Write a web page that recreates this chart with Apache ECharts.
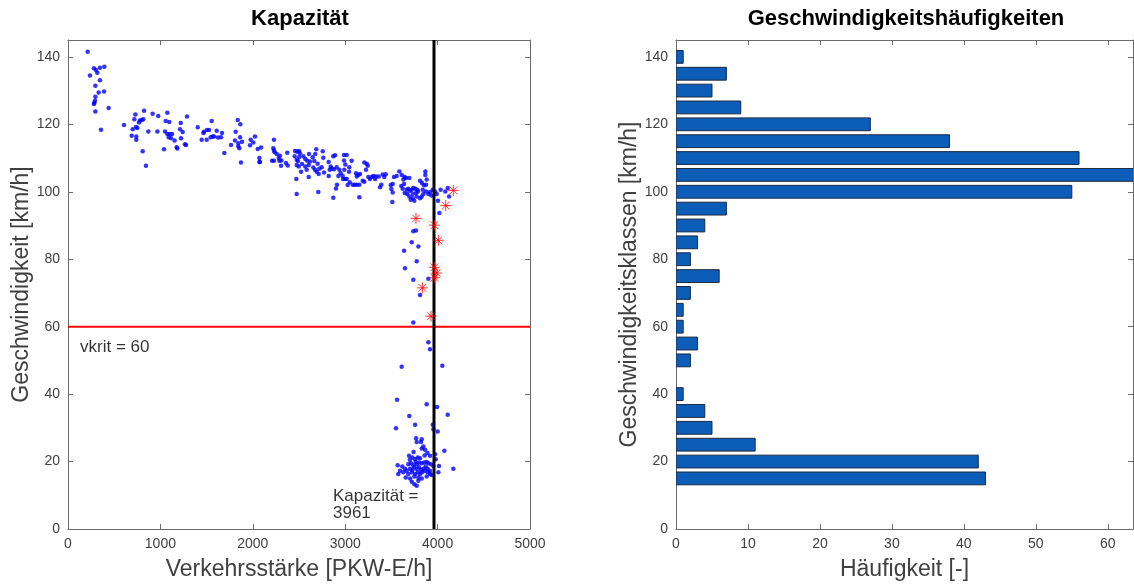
<!DOCTYPE html>
<html>
<head>
<meta charset="utf-8">
<script src="https://cdn.jsdelivr.net/npm/echarts@6/dist/echarts.min.js"></script>
<style>
  html, body { margin: 0; padding: 0; background: #fff; }
  #chart { width: 1134px; height: 586px; }
</style>
</head>
<body>
<div id="chart"></div>
<script>
// measured flow [PKW-E/h] and speed [km/h]
const measuredPoints = [
  [213,141.5],[238,134.5],[281,136.6],[303,136.1],[317,135.3],[346,136.8],[393,137.1],[346,133.1],[296,131.4],[332,129.4],
  [390,129.7],[296,128.2],[292,127.0],[285,126.4],[281,126.0],[296,123.8],[440,124.8],[357,118.4],[606,119.8],[729,122.9],
  [718,121.5],[700,118.5],[689,116.6],[739,116.4],[739,115.4],[750,118.9],[736,119.2],[768,120.5],[779,121.1],[797,121.3],
  [815,121.5],[823,124.0],[808,112.0],[844,107.7],[869,117.9],[916,123.1],[977,122.5],[967,117.9],[1039,112.6],[1050,117.9],
  [1057,121.0],[1075,123.4],[1096,120.7],[1075,117.1],[1100,117.1],[1126,117.1],[1090,116.2],[1115,115.9],[1154,115.2],[1176,113.2],
  [1183,112.8],[1220,120.4],[1212,118.5],[1223,115.9],[1241,117.7],[1266,114.1],[1277,113.9],[1288,122.3],[1404,119.1],[1447,115.4],
  [1472,117.8],[1465,117.4],[1504,118.3],[1526,118.3],[1555,121.0],[1501,115.4],[1544,116.2],[1566,116.4],[1580,116.4],[1609,118.1],
  [1623,116.1],[1667,117.4],[1656,116.2],[1692,111.5],[1764,113.9],[1815,117.8],[1837,121.3],[1865,120.0],[1807,115.2],[1843,114.4],
  [1862,116.2],[1843,113.5],[1854,112.9],[1883,114.8],[1872,108.7],[1970,113.8],[1977,115.4],[2005,114.6],[2024,116.4],[2053,112.7],
  [2071,110.0],[2071,108.8],
  [2089,113.1],[2078,108.8],[2229,115.4],[2222,112.9],[2229,112.2],[2237,111.7],[2208,109.2],[2229,109.2],[2259,111.2],[2280,110.0],
  [2294,110.7],[2309,109.3],[2287,109.2],[2305,107.7],[2359,108.5],[2373,111.6],[2378,107.8],[2457,112.1],[2482,111.9],[2500,112.1],
  [2511,111.4],[2453,110.5],[2475,109.5],[2489,109.1],[2503,110.3],[2475,107.9],[2497,107.5],[2522,105.9],[2471,103.8],[2475,99.3],
  [2547,110.5],[2568,109.7],[2590,109.2],[2608,111.2],[2619,109.0],[2533,108.2],[2568,107.5],[2583,106.5],[2605,107.9],[2605,104.4],
  [2648,110.2],[2666,109.1],[2687,112.6],[2676,111.2],[2702,108.3],[2655,107.2],[2673,106.5],[2691,105.9],[2713,105.3],[2757,112.0],
  [2763,110.1],[2720,106.8],[2746,107.3],[2771,105.7],[2709,99.9],[2821,108.8],[2843,107.5],[2832,106.5],[2821,104.7],[2854,106.9],
  [2871,110.5],[2890,110.8],[2871,98.2],[2900,101.0],[2911,102.1],[2926,104.7],[2879,106.7],[2908,107.3],[2936,106.5],[2951,105.5],
  [2973,104.7],[2987,110.9],[3016,110.9],[2987,109.3],[3001,108.1],[2990,106.5],[3044,107.3],[3070,109.2],[2976,103.8],[2998,103.8],
  [3016,103.8],[3027,102.0],[3049,102.8],[3041,105.9],[3081,102.1],[3103,102.1],[3125,102.1],[3153,102.1],[3125,104.5],[3142,105.0],
  [3160,105.3],[3117,105.5],[3207,108.7],[3233,108.3],[3244,107.7],[3225,106.5],[3250,104.4],[3268,103.8],[3287,104.4],[3305,104.7],
  [3153,98.4],[3189,103.3],[3207,103.0],[3323,103.8],[3333,104.5],[3363,104.5],[3406,105.1],[3423,104.4],[3439,105.2],[3377,101.3],
  [3391,102.1],[3493,102.0],[3499,100.8],[3514,102.3],[3528,104.4],[3557,104.7],[3510,97.0],[3514,99.8],[3586,106.0],
  [3612,105.0],[3629,103.6],[3644,104.4],[3658,104.1],[3694,104.1],[3607,101.7],[3622,100.9],[3637,102.3],[3666,100.6],[3683,100.9],
  [3702,100.3],[3720,100.6],[3737,101.1],[3759,100.9],[3781,100.6],[3644,99.6],[3672,99.3],[3694,98.6],[3731,99.3],[3767,99.6],
  [3788,100.1],[3709,97.6],[3731,98.1],[3748,97.3],[3774,98.6],[3810,98.1],[3828,98.6],[3846,99.3],[3810,103.3],[3831,102.6],
  [3853,101.9],[3839,100.6],[3875,100.1],[3875,102.1],[3882,103.6],[3867,105.0],[3867,106.0],[3900,99.3],[3918,99.9],[3947,100.6],
  [3932,98.9],[3972,100.1],[3990,99.3],[4033,100.6],[4083,100.1],[4110,101.1],[4004,97.3],[4124,98.6],
  [4019,93.7],[3737,88.3],[3766,88.5],[3720,85.0],[3792,83.8],[3637,82.5],[3774,79.4],[3647,77.3],[3737,73.9],[3900,74.2],
  [3810,69.4],[3737,61.2],
  [3900,55.4],[3918,53.3],[3611,48.1],[4051,48.4],[3561,38.3],[3882,37.0],[3994,36.2],[4109,33.9],[3694,33.5],[3550,29.9],
  [3756,30.9],[3947,30.9],[3954,29.6],[4001,28.9],[3767,26.9],[3828,26.6],
  [3774,25.8],[3828,23.9],[3846,24.5],[3864,23.5],[3820,25.8],[3918,21.7],[3972,22.2],[3980,20.7],[4073,23.2],[3691,21.7],
  [3727,21.2],[3756,20.7],[3785,21.2],[3763,19.9],[3683,19.2],[3712,19.5],[3737,18.9],[3774,19.2],[3799,19.7],[3828,19.5],
  [3856,19.7],[3882,19.9],[3900,19.5],[3929,19.2],[3954,18.7],[3568,18.9],[3618,18.5],[3647,17.9],[3593,17.3],[3575,16.3],
  [3629,16.8],[3666,17.3],[3702,17.9],[3727,17.5],[3748,18.3],[3774,17.8],[3799,18.3],[3820,17.5],[3846,17.9],[3871,18.5],
  [3893,17.9],[3918,17.3],[3683,16.3],[3720,16.8],[3756,16.3],[3785,16.8],[3810,16.3],[3835,16.8],[3864,17.3],[3893,16.8],
  [3918,16.3],[3655,15.3],[3702,15.0],[3748,15.6],[3792,15.3],[3828,15.0],[3882,15.6],[3936,16.0],[4008,16.8],[4015,18.7],
  [3720,14.0],[3748,13.3],[3792,14.3],[3774,12.8],[4170,17.9],[3700,20.5],[3810,21.0],[3860,21.8],[3890,22.5],[3740,22.8]
];

// points marked as capacity-relevant (red asterisks)
const capacityPoints = [
  [4170,100.4],[4088,95.9],[3766,92.1],[3965,90.1],[4008,85.6],[3965,77.6],[3990,75.9],[3965,74.5],[3835,71.5],[3929,63.1]
];

const capacity = 3961;
const vkrit = 60;

// histogram: class centre [km/h] and count
const speedClasses = [15,20,25,30,35,40,45,50,55,60,65,70,75,80,85,90,95,100,105,110,115,120,125,130,135,140];
const classCounts  = [43,42,11,5,4,1,0,2,3,1,1,2,6,2,3,4,7,55,64,56,38,27,9,5,7,1];

const font = 'Liberation Sans, Arial, Helvetica, sans-serif';
const axisGray = '#6b6b6b';
const labelGray = '#404040';

function boxAxis(gridIndex, position, min, max, interval, withLabels, extra) {
  return Object.assign({
    type: 'value',
    gridIndex: gridIndex,
    position: position,
    min: min,
    max: max,
    interval: interval,
    axisLine: { show: true, onZero: false, lineStyle: { color: axisGray, width: 1 } },
    axisTick: { show: true, inside: true, length: 5, lineStyle: { color: axisGray } },
    axisLabel: {
      show: withLabels, color: labelGray, fontSize: 14, fontFamily: font, margin: 8,
      showMaxLabel: max % interval === 0,
      formatter: function (v) { return String(v); }
    },
    splitLine: { show: false }
  }, extra || {});
}

const nameStyle = { color: labelGray, fontSize: 23, fontFamily: font };

const histData = speedClasses.map((c, i) => [c, classCounts[i]]);
const halfBar = 1.9;

const chart = echarts.init(document.getElementById('chart'));

const titleStyle = { fill: '#000', font: 'bold 22px ' + font, textAlign: 'center' };

const option = {
  animation: false,
  backgroundColor: '#fff',
  graphic: [
    { type: 'text', x: 300, y: 8, style: Object.assign({ text: 'Kapazität' }, titleStyle) },
    { type: 'text', x: 906, y: 8, style: Object.assign({ text: 'Geschwindigkeitshäufigkeiten' }, titleStyle) }
  ],
  grid: [
    { left: 68, top: 40, width: 462, height: 490 },
    { left: 676, top: 40, width: 457, height: 490 }
  ],
  xAxis: [
    boxAxis(0, 'bottom', 0, 5000, 1000, true, {
      name: 'Verkehrsstärke [PKW-E/h]', nameLocation: 'middle', nameGap: 29, nameTextStyle: nameStyle
    }),
    boxAxis(0, 'top', 0, 5000, 1000, false),
    boxAxis(1, 'bottom', 0, 63.5, 10, true, {
      name: 'Häufigkeit [-]', nameLocation: 'middle', nameGap: 29, nameTextStyle: nameStyle
    }),
    boxAxis(1, 'top', 0, 63.5, 10, false)
  ],
  yAxis: [
    boxAxis(0, 'left', 0, 145, 20, true, {
      name: 'Geschwindigkeit [km/h]', nameLocation: 'middle', nameGap: 35, nameTextStyle: nameStyle
    }),
    boxAxis(0, 'right', 0, 145, 20, false),
    boxAxis(1, 'left', 0, 145, 20, true, {
      name: 'Geschwindigkeitsklassen [km/h]', nameLocation: 'middle', nameGap: 35, nameTextStyle: nameStyle
    }),
    boxAxis(1, 'right', 0, 145, 20, false)
  ],
  series: [
    {
      type: 'line',
      xAxisIndex: 0, yAxisIndex: 0,
      data: [[0, vkrit], [5000, vkrit]],
      symbol: 'none',
      lineStyle: { color: '#ff0000', width: 2 },
      z: 3
    },
    {
      type: 'scatter',
      xAxisIndex: 0, yAxisIndex: 0,
      data: measuredPoints,
      symbol: 'circle',
      symbolSize: 4.5,
      itemStyle: { color: '#0000ff' },
      z: 4
    },
    {
      type: 'line',
      xAxisIndex: 0, yAxisIndex: 0,
      data: [[capacity, 0], [capacity, 145]],
      symbol: 'none',
      lineStyle: { color: '#000', width: 3 },
      z: 5
    },
    {
      type: 'scatter',
      xAxisIndex: 0, yAxisIndex: 0,
      data: capacityPoints,
      symbol: 'path://M5,0L5,10M0,5L10,5M1.5,1.5L8.5,8.5M1.5,8.5L8.5,1.5',
      symbolSize: 11,
      itemStyle: { color: '#ff0000', borderColor: '#ff0000', borderWidth: 1 },
      z: 6
    },
    {
      // text annotations placed in data coordinates
      type: 'scatter',
      xAxisIndex: 0, yAxisIndex: 0,
      symbolSize: 0,
      silent: true,
      data: [
        { value: [130, 54], label: { formatter: 'vkrit = ' + vkrit } },
        { value: [2868, 7.2], label: { formatter: 'Kapazität =\n' + capacity } }
      ],
      label: {
        show: true, position: [0, 0], align: 'left', verticalAlign: 'middle',
        color: '#000', fontSize: 17, fontFamily: font, lineHeight: 17
      },
      z: 7
    },
    {
      type: 'custom',
      xAxisIndex: 2, yAxisIndex: 2,
      data: histData,
      encode: { x: 1, y: 0 },
      clip: true,
      renderItem: function (params, api) {
        const cls = api.value(0);
        const cnt = api.value(1);
        if (!cnt) return;
        const p0 = api.coord([0, cls + halfBar]);
        const p1 = api.coord([cnt, cls - halfBar]);
        return {
          type: 'rect',
          shape: { x: p0[0], y: p0[1], width: p1[0] - p0[0], height: p1[1] - p0[1] },
          style: { fill: '#0b5db8', stroke: '#1b2a44', lineWidth: 1 }
        };
      }
    }
  ]
};

chart.setOption(option);
</script>
</body>
</html>
